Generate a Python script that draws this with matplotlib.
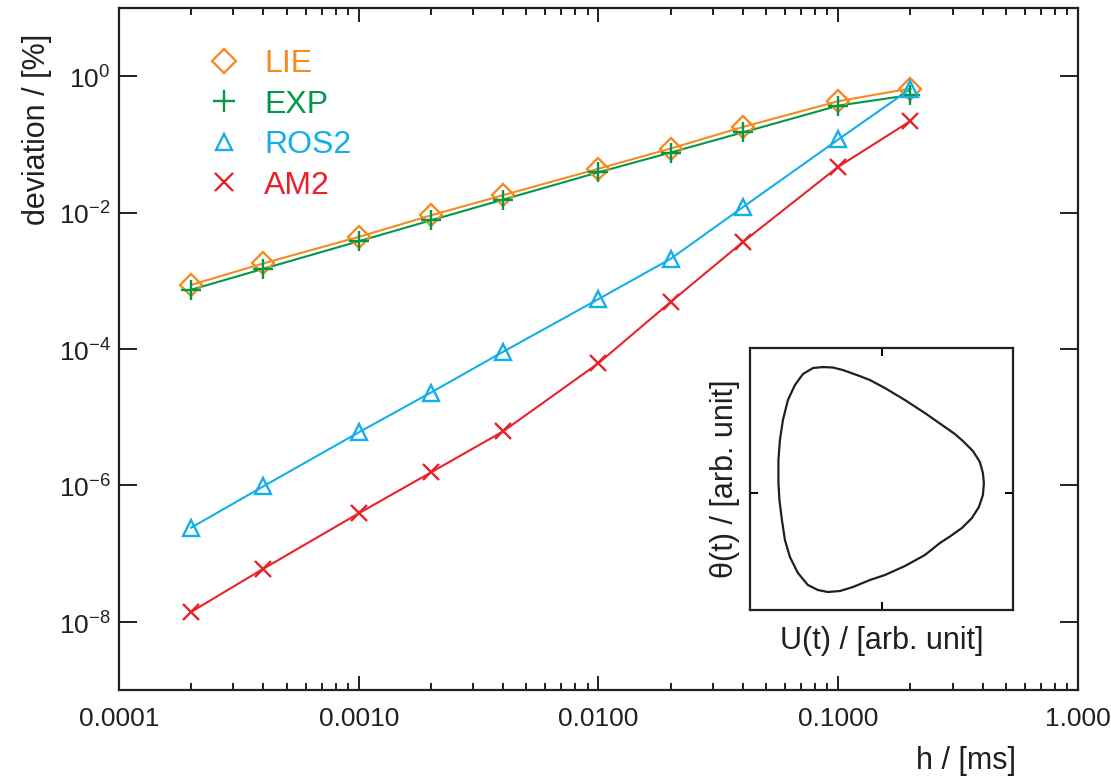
import matplotlib
matplotlib.use('Agg')
import matplotlib.pyplot as plt
from matplotlib.ticker import FixedLocator, FixedFormatter, LogLocator, NullLocator, NullFormatter

plt.rcParams['font.family'] = ['Liberation Sans', 'DejaVu Sans']
plt.rcParams['mathtext.fontset'] = 'custom'
plt.rcParams['mathtext.rm'] = 'Liberation Sans'

# step sizes h / [ms]
h = [0.0002, 0.0004, 0.001, 0.002, 0.004, 0.01, 0.02, 0.04, 0.1, 0.2]

# deviation / [%]
lie = [8.7e-4, 1.8e-3, 4.4e-3, 9.1e-3, 1.8e-2, 4.4e-2, 8.7e-2, 0.18, 0.43, 0.66]
exp_ = [7.4e-4, 1.5e-3, 3.8e-3, 7.7e-3, 1.55e-2, 3.9e-2, 7.6e-2, 0.15, 0.37, 0.53]
ros2 = [2.4e-7, 9.7e-7, 6.0e-6, 2.3e-5, 9.1e-5, 5.4e-4, 2.1e-3, 1.2e-2, 0.118, 0.65]
am2 = [1.4e-8, 6.0e-8, 3.9e-7, 1.55e-6, 6.2e-6, 6.2e-5, 4.9e-4, 3.7e-3, 4.7e-2, 0.22]

series = [('LIE', lie, '#F58A1F', 'D'),
          ('EXP', exp_, '#00994C', '+'),
          ('ROS2', ros2, '#14AEE8', '^'),
          ('AM2', am2, '#E8212B', 'x')]

xtick_vals = [0.0001, 0.001, 0.01, 0.1, 1.0]
xtick_labels = ['0.0001', '0.0010', '0.0100', '0.1000', '1.000']
ytick_vals = [1e-8, 1e-6, 1e-4, 1e-2, 1e0]
ytick_labels = ['$10^{-8}$', '$10^{-6}$', '$10^{-4}$', '$10^{-2}$', '$10^{0}$']

# limit cycle in the inset (arb. units)
cyc_u = [823, 833, 843, 857, 870, 885, 905, 925, 945, 955, 963, 973, 980, 983,
         984, 983, 979, 972, 962, 950, 940, 925, 905, 885, 870, 853, 840, 828,
         818, 808, 798, 790, 785, 782, 779.5, 778.5, 778.5, 780, 783, 788, 795,
         803, 813, 823]
cyc_y = [367, 367.5, 370, 375, 380, 388, 400, 413, 427, 434, 441, 451, 462, 473,
         483, 495, 507, 518, 528, 536.5, 543, 555, 566, 575, 580, 587, 591, 592,
         590, 585, 573, 557, 540, 520, 500, 483, 460, 440, 420, 400, 385,
         374, 368, 367]
cyc_th = [776 - v for v in cyc_y]

fig = plt.figure(figsize=(11.11, 7.76), dpi=100)
ax = fig.add_axes([0.1071, 0.1108, 0.8632, 0.8789])

for name, vals, col, mk in series:
    ax.plot(h, vals, color=col, lw=1.5, zorder=2)
    ms = 14 if mk == '+' else (12 if mk == 'x' else 11)
    ax.plot(h, vals, ls='none', marker=mk, ms=ms, mew=1.7, mfc='none',
            mec=col, color=col, label=name, zorder=3)

ax.set_xscale('log')
ax.set_yscale('log')
ax.set_xlim(1e-4, 1.0)
ax.set_ylim(1e-9, 1e1)

ax.xaxis.set_major_locator(FixedLocator(xtick_vals))
ax.xaxis.set_major_formatter(FixedFormatter(xtick_labels))
ax.xaxis.set_minor_locator(LogLocator(base=10, subs=range(2, 10), numticks=20))
ax.xaxis.set_minor_formatter(NullFormatter())
ax.yaxis.set_major_locator(FixedLocator(ytick_vals))
ax.yaxis.set_major_formatter(FixedFormatter(ytick_labels))
ax.yaxis.set_minor_locator(NullLocator())

ax.tick_params(axis='both', which='both', direction='in', top=True, right=True,
               labelsize=19, colors='#231F20', width=1.4)
ax.tick_params(axis='x', which='major', length=10, pad=12)
ax.tick_params(axis='x', which='minor', length=5)
ax.tick_params(axis='y', which='major', length=13, pad=6)
for sp in ax.spines.values():
    sp.set_linewidth(1.6)
    sp.set_color('#231F20')

ax.set_xlabel('h / [ms]', fontsize=22, color='#231F20')
ax.xaxis.set_label_coords(0.935, -0.082)
ax.xaxis.label.set_ha('right')
ax.set_ylabel('deviation / [%]', fontsize=22, color='#231F20')
ax.yaxis.set_label_coords(-0.086, 0.962)
ax.yaxis.label.set_ha('right')
ax.yaxis.label.set_va('center')

leg = ax.legend(loc='upper left', bbox_to_anchor=(0.06, 0.982), frameon=False,
                fontsize=23, labelcolor='markeredgecolor', handlelength=1.2,
                handletextpad=0.65, labelspacing=0.33, markerscale=1.1)

# inset with the limit cycle
ins = fig.add_axes([0.675, 0.2139, 0.2367, 0.3376])
ins.plot(cyc_u, cyc_th, color='#231F20', lw=1.6)
ins.set_xlim(750, 1013)
ins.set_ylim(776 - 610, 776 - 348)
ins.set_xticks([882])
ins.set_yticks([776 - 493])
ins.set_xticklabels([])
ins.set_yticklabels([])
ins.tick_params(direction='in', top=True, right=True, length=6, width=1.4)
for sp in ins.spines.values():
    sp.set_linewidth(1.6)
    sp.set_color('#231F20')
ins.set_xlabel('U(t) / [arb. unit]', fontsize=22, color='#231F20', labelpad=8)
ins.set_ylabel('θ(t) / [arb. unit]', fontsize=22, color='#231F20', labelpad=4)

fig.savefig('out.png', dpi=100)
